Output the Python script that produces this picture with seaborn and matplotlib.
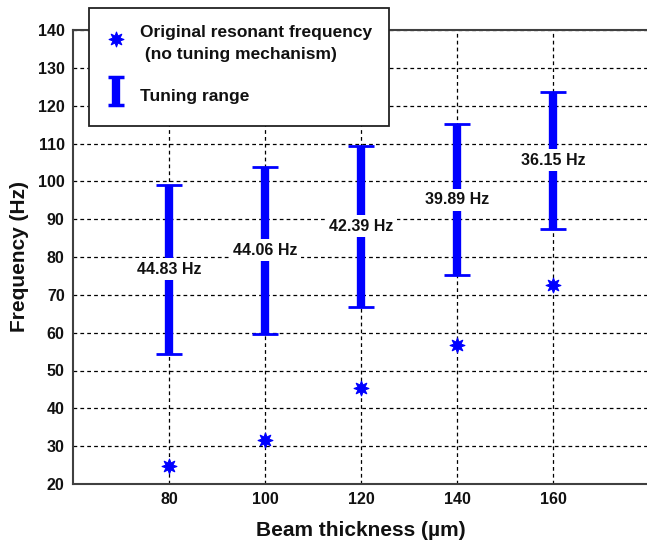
import matplotlib
matplotlib.use("Agg")
import matplotlib.pyplot as plt
from matplotlib.container import ErrorbarContainer
from matplotlib.legend_handler import HandlerErrorbar
from matplotlib.lines import Line2D
import seaborn as sns
import pandas as pd
import numpy as np

# Beam thickness (µm)
thickness = [80, 100, 120, 140, 160]
# Resonant frequency without tuning (Hz)
f_original = [24.8, 31.6, 45.3, 56.8, 72.6]
# Lower end of the tuning range (Hz)
tune_low = [54.3, 59.7, 66.9, 75.2, 87.5]
# Width of the tuning range (Hz)
tune_width = [44.83, 44.06, 42.39, 39.89, 36.15]

y_ticks = [20, 30, 40, 50, 60, 70, 80, 90, 100, 110, 120, 130, 140]
x_ticks = [80, 100, 120, 140, 160]

df = pd.DataFrame({
    "thickness": thickness,
    "f0": f_original,
    "low": tune_low,
    "width": tune_width,
})
df["high"] = df["low"] + df["width"]
df["mid"] = (df["low"] + df["high"]) / 2

sns.set_style("white")
plt.rcParams["font.family"] = ["Liberation Sans", "DejaVu Sans"]
plt.rcParams["font.weight"] = "bold"

fig = plt.figure(figsize=(6.47, 5.43), dpi=100)
ax = fig.add_axes([73 / 647, 59 / 543, 576 / 647, 454 / 543])

blue = "#0000ff"

# tuning ranges as capped vertical bars
eb = ax.errorbar(
    df["thickness"], df["low"],
    yerr=[np.zeros(len(df)), df["width"]],
    fmt="none", ecolor=blue, elinewidth=6.0, capsize=9.5, capthick=2.0,
    zorder=3, label="Tuning range",
)

# original resonant frequencies
sns.scatterplot(
    data=df, x="thickness", y="f0", ax=ax, marker=(8, 1, 0), s=115,
    color=blue, edgecolor=blue, linewidth=0.8, zorder=4,
    label="Original resonant frequency\n (no tuning mechanism)",
)
handles, labels = ax.get_legend_handles_labels()
if ax.get_legend() is not None:
    ax.get_legend().remove()

# range labels centred on each bar
for x, ym, w in zip(df["thickness"], df["mid"], df["width"]):
    ax.text(x, ym, f"{w:.2f} Hz", ha="center", va="center", fontsize=11.5,
            fontweight="bold", color="#111111", zorder=5,
            bbox=dict(facecolor="white", edgecolor="none", pad=2.5))

ax.set_xlim(60, 180)
ax.set_ylim(20, 140)
ax.set_xticks(x_ticks)
ax.set_yticks(y_ticks)
ax.grid(True, color="black", linestyle=(0, (3, 2.5)), linewidth=0.9)
ax.set_axisbelow(True)

ax.tick_params(axis="both", direction="in", length=5, width=1.2,
               colors="#333333", labelcolor="#111111", labelsize=11.5, pad=6)
for lbl in ax.get_xticklabels() + ax.get_yticklabels():
    lbl.set_fontweight("bold")

for side in ["left", "bottom", "top", "right"]:
    ax.spines[side].set_color("#404040")
    ax.spines[side].set_linewidth(1.5)

ax.set_xlabel("Beam thickness (µm)", fontsize=15, fontweight="bold",
              color="#111111", labelpad=10)
ax.set_ylabel("Frequency (Hz)", fontsize=15, fontweight="bold",
              color="#111111", labelpad=6)


def _small_caps(legend_artist, orig_artist):
    legend_artist.update_from(orig_artist)
    if isinstance(legend_artist, Line2D) and legend_artist.get_marker() == "_":
        legend_artist.set_markersize(11)
        legend_artist.set_markeredgewidth(2.5)


order = [labels.index("Original resonant frequency\n (no tuning mechanism)"),
         labels.index("Tuning range")]
leg = fig.legend(
    [handles[i] for i in order], [labels[i] for i in order],
    loc="upper left", bbox_to_anchor=(89 / 647, 1 - 8 / 543),
    bbox_transform=fig.transFigure,
    fontsize=12.5, frameon=True, fancybox=False, framealpha=1,
    edgecolor="#222222", borderpad=1.0, labelspacing=1.1,
    handlelength=1.15, handleheight=2.1, handletextpad=0.77, borderaxespad=0,
    handler_map={ErrorbarContainer: HandlerErrorbar(yerr_size=0.8,
                                                     update_func=_small_caps)},
)
leg.get_frame().set_linewidth(1.3)
for t in leg.get_texts():
    t.set_fontweight("bold")
    t.set_color("#111111")
    t.set_linespacing(1.55)

fig.savefig("out.png", dpi=100)
